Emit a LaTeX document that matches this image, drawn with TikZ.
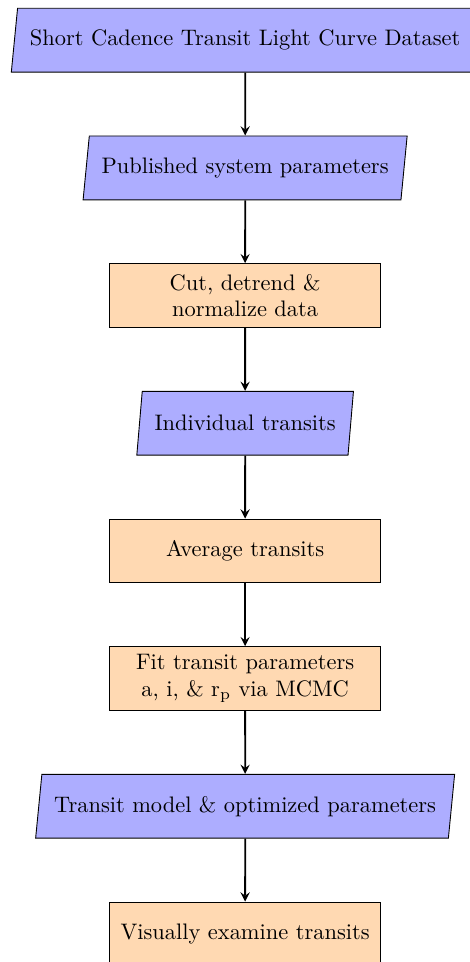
\documentclass[tikz,border=0pt]{standalone}
\usetikzlibrary{shapes.geometric,arrows}

\begin{document}
\begin{tikzpicture}[
io/.style={trapezium, trapezium stretches=true, trapezium left angle=80, trapezium right angle=100, inner xsep=5.5pt, minimum height=1cm, text centered, draw=black, fill=blue!32},
process/.style={rectangle, minimum width=4.25cm, minimum height=1cm, text centered, align=center, draw=black, fill=orange!30},
arrow/.style={thick,->,>=stealth}]
\useasboundingbox (0,0) rectangle (7.36,-15.07);
\node (dataset) [io] at (3.84,-0.63) {Short Cadence Transit Light Curve Dataset};
\node (published) [io] at (3.84,-2.63) {Published system parameters};
\node (cut) [process] at (3.84,-4.63) {Cut, detrend \&\\ normalize data};
\node (individual) [io] at (3.84,-6.63) {Individual transits};
\node (average) [process] at (3.84,-8.63) {Average transits};
\node (fit) [process] at (3.84,-10.63) {Fit transit parameters\\ a, i, \& r$_{\rm p}$ via MCMC};
\node (model) [io] at (3.84,-12.63) {Transit model \& optimized parameters};
\node (examine) [process] at (3.84,-14.63) {Visually examine transits};
\draw [arrow] (dataset) -- (published);
\draw [arrow] (published) -- (cut);
\draw [arrow] (cut) -- (individual);
\draw [arrow] (individual) -- (average);
\draw [arrow] (average) -- (fit);
\draw [arrow] (fit) -- (model);
\draw [arrow] (model) -- (examine);
\end{tikzpicture}
\end{document}
